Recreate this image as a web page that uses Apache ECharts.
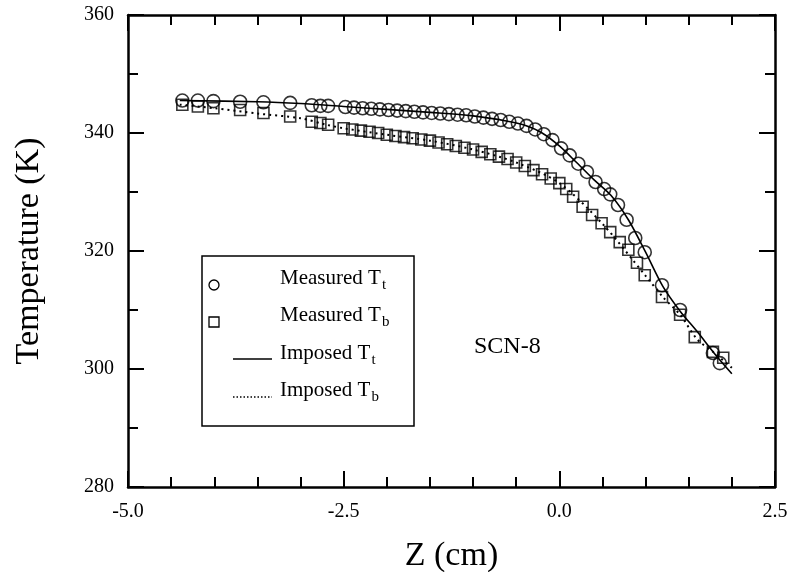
<!DOCTYPE html>
<html>
<head>
<meta charset="utf-8">
<script src="https://cdn.jsdelivr.net/npm/echarts@6/dist/echarts.min.js"></script>
<style>
html,body{margin:0;padding:0;background:#fff;}
#chart{width:790px;height:572px;}
</style>
</head>
<body>
<div id="chart"></div>
<script>
// measured top temperature (circles)
var measTtZ = [-4.37,-4.19,-4.01,-3.70,-3.43,-3.12,-2.87,-2.77,-2.68,
  -2.48,-2.38,-2.28,-2.18,-2.08,-1.98,-1.88,-1.78,-1.68,-1.58,-1.48,-1.38,-1.28,-1.18,-1.08,
  -0.98,-0.88,-0.78,-0.68,-0.58,-0.48,-0.38,-0.28,-0.18,-0.08,0.02,0.12,0.22,0.32,0.42,0.52,0.59,
  0.68,0.78,0.88,0.99,1.19,1.40,1.78,1.86];
var measTtT = [345.5,345.5,345.4,345.3,345.2,345.1,344.7,344.6,344.6,
  344.4,344.3,344.2,344.1,344.0,343.9,343.8,343.7,343.6,343.5,343.4,343.3,343.2,343.1,343.0,
  342.8,342.6,342.4,342.2,341.9,341.6,341.2,340.6,339.8,338.8,337.4,336.2,334.8,333.4,331.7,330.5,329.6,
  327.8,325.3,322.2,319.8,314.2,310.0,302.7,301.0];
// measured bottom temperature (squares)
var measTbZ = [-4.37,-4.19,-4.01,-3.70,-3.43,-3.12,-2.87,-2.77,-2.68,
  -2.5,-2.4,-2.3,-2.2,-2.1,-2.0,-1.9,-1.8,-1.7,-1.6,-1.5,-1.4,-1.3,-1.2,-1.1,-1.0,
  -0.9,-0.8,-0.7,-0.6,-0.5,-0.4,-0.3,-0.2,-0.1,0.0,0.08,0.16,0.27,0.38,0.49,0.59,
  0.70,0.80,0.90,0.99,1.19,1.40,1.57,1.78,1.90];
var measTbT = [344.8,344.5,344.2,343.9,343.4,342.8,341.9,341.7,341.4,
  340.8,340.6,340.4,340.2,340.0,339.7,339.5,339.3,339.1,338.9,338.7,338.4,338.1,337.8,337.5,337.2,
  336.8,336.4,336.0,335.6,335.0,334.4,333.7,333.0,332.3,331.5,330.5,329.2,327.5,326.1,324.7,323.2,
  321.5,320.2,318.0,315.9,312.2,309.2,305.4,302.9,301.9];
// imposed profiles (lines)
var impTtZ = [-4.4,-3.5,-3.0,-2.5,-2.0,-1.5,-1.0,-0.6,-0.4,-0.2,0.0,0.2,0.4,0.6,0.8,1.0,1.2,1.4,1.6,1.8,2.0];
var impTtT = [345.5,345.3,345.0,344.5,344.0,343.5,342.9,342.0,341.3,340.0,337.8,335.0,332.1,329.4,325.3,319.8,314.0,309.8,306.3,302.6,299.2];
var impTbZ = [-4.4,-4.0,-3.5,-3.0,-2.7,-2.5,-2.0,-1.5,-1.0,-0.5,0.0,0.5,1.0,1.2,1.4,1.6,1.8,2.0];
var impTbT = [344.8,344.2,343.3,342.5,341.4,340.8,339.7,338.7,337.2,335.0,331.5,324.6,315.8,312.2,309.2,305.0,302.7,300.2];

function pairs(a, b) {
  var out = [];
  for (var i = 0; i < a.length; i++) out.push([a[i], b[i]]);
  return out;
}

var serif = 'Liberation Serif';
var chart = echarts.init(document.getElementById('chart'));

var axisCommon = {
  axisLine: {show: true, onZero: false, lineStyle: {color: '#000', width: 2.5}},
  axisTick: {show: true, inside: true, length: 16, lineStyle: {color: '#000', width: 2}},
  minorTick: {show: true, splitNumber: 2, length: 10, lineStyle: {color: '#000', width: 2}},
  splitLine: {show: false}
};

var option = {
  animation: false,
  backgroundColor: '#fff',
  grid: {left: 128, right: 15, top: 15, bottom: 85, containLabel: false, outerBoundsMode: 'none'},
  xAxis: [
    echarts.util.merge({
      type: 'value', min: -5, max: 2.5, interval: 2.5, position: 'bottom',
      minorTick: {splitNumber: 5},
      name: 'Z (cm)', nameLocation: 'middle', nameGap: 52,
      nameTextStyle: {fontFamily: serif, fontSize: 34, color: '#000'},
      axisLabel: {fontFamily: serif, fontSize: 20, color: '#000', margin: 15,
        formatter: function (v) { return v.toFixed(1); }}
    }, axisCommon, false),
    echarts.util.merge({
      type: 'value', min: -5, max: 2.5, interval: 2.5, position: 'top',
      minorTick: {splitNumber: 5},
      axisLabel: {show: false}
    }, axisCommon, false)
  ],
  yAxis: [
    echarts.util.merge({
      type: 'value', min: 280, max: 360, interval: 20, position: 'left',
      name: 'Temperature (K)', nameLocation: 'middle', nameGap: 82,
      nameTextStyle: {fontFamily: serif, fontSize: 34, color: '#000'},
      axisLabel: {fontFamily: serif, fontSize: 20, color: '#000', margin: 14}
    }, axisCommon, false),
    echarts.util.merge({
      type: 'value', min: 280, max: 360, interval: 20, position: 'right',
      axisLabel: {show: false}
    }, axisCommon, false)
  ],
  series: [
    {
      name: 'Imposed Tt', type: 'line', smooth: 0.3, showSymbol: false,
      data: pairs(impTtZ, impTtT),
      lineStyle: {color: '#000', width: 1.6}
    },
    {
      name: 'Imposed Tb', type: 'line', smooth: 0.3, showSymbol: false,
      data: pairs(impTbZ, impTbT),
      lineStyle: {color: '#000', width: 2, type: [2, 4]}
    },
    {
      name: 'Measured Tt', type: 'scatter', symbol: 'circle', symbolSize: 13,
      data: pairs(measTtZ, measTtT),
      itemStyle: {color: 'rgba(0,0,0,0)', borderColor: '#000', borderWidth: 1.6}
    },
    {
      name: 'Measured Tb', type: 'scatter', symbol: 'rect', symbolSize: 11,
      data: pairs(measTbZ, measTbT),
      itemStyle: {color: 'rgba(0,0,0,0)', borderColor: '#000', borderWidth: 1.6}
    }
  ],
  graphic: [
    {type: 'rect', shape: {x: 202, y: 256, width: 212, height: 170},
      style: {fill: '#fff', stroke: '#000', lineWidth: 1.5}, z: 10},
    {type: 'circle', shape: {cx: 214, cy: 285, r: 5},
      style: {fill: 'none', stroke: '#000', lineWidth: 1.3}, z: 11},
    {type: 'rect', shape: {x: 209, y: 317, width: 10, height: 10},
      style: {fill: 'none', stroke: '#000', lineWidth: 1.3}, z: 11},
    {type: 'line', shape: {x1: 233, y1: 359, x2: 272, y2: 359},
      style: {stroke: '#000', lineWidth: 1.6}, z: 11},
    {type: 'line', shape: {x1: 233, y1: 397, x2: 272, y2: 397},
      style: {stroke: '#000', lineWidth: 1.6, lineDash: [1.5, 2]}, z: 11},
    {type: 'text', left: 280, top: 268, z: 11,
      style: {text: '{m|Measured T}{s|t}', rich: {
        m: {fontFamily: serif, fontSize: 21, fill: '#000'},
        s: {fontFamily: serif, fontSize: 15, fill: '#000', padding: [14, 0, 0, 1]}}}},
    {type: 'text', left: 280, top: 305, z: 11,
      style: {text: '{m|Measured T}{s|b}', rich: {
        m: {fontFamily: serif, fontSize: 21, fill: '#000'},
        s: {fontFamily: serif, fontSize: 15, fill: '#000', padding: [14, 0, 0, 1]}}}},
    {type: 'text', left: 280, top: 343, z: 11,
      style: {text: '{m|Imposed T}{s|t}', rich: {
        m: {fontFamily: serif, fontSize: 21, fill: '#000'},
        s: {fontFamily: serif, fontSize: 15, fill: '#000', padding: [14, 0, 0, 1]}}}},
    {type: 'text', left: 280, top: 380, z: 11,
      style: {text: '{m|Imposed T}{s|b}', rich: {
        m: {fontFamily: serif, fontSize: 21, fill: '#000'},
        s: {fontFamily: serif, fontSize: 15, fill: '#000', padding: [14, 0, 0, 1]}}}},
    {type: 'text', left: 474, top: 335, z: 11,
      style: {text: 'SCN-8', fontFamily: serif, fontSize: 24, fill: '#000'}}
  ]
};
chart.setOption(option);
</script>
</body>
</html>
